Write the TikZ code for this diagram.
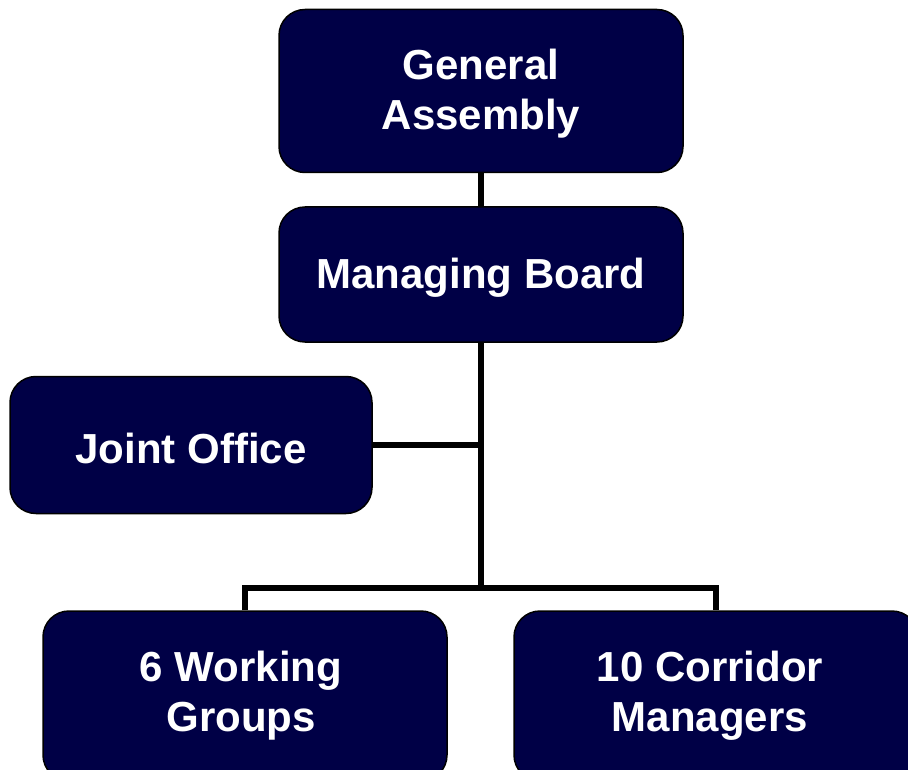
\documentclass[tikz,border=0pt]{standalone}
\usepackage{fontspec}
\setmainfont{Liberation Sans}
\definecolor{boxnavy}{RGB}{0,0,70}
\begin{document}
\begin{tikzpicture}[x=1pt,y=-1pt,
  orgbox/.style={draw=black, line width=1.5pt, fill=boxnavy, rounded corners=26pt,
    inner sep=0pt, minimum width=404pt},
  orgtext/.style={text=white, font=\fontsize{42}{50}\selectfont\bfseries, align=center,
    inner sep=0pt},
  link/.style={draw=black, line width=5.5pt}]
\useasboundingbox (0,0) rectangle (908,770);
\clip (0,0) rectangle (908,770);
\node[orgbox, minimum height=163pt] (ga) at (481,91) {};
\node[orgbox, minimum height=135pt] (mb) at (481,274.5) {};
\node[orgbox, minimum height=137pt, minimum width=362pt] (jo) at (191,445) {};
\node[orgbox, minimum height=170pt] (wg) at (245,696) {};
\node[orgbox, minimum height=170pt] (cm) at (716,696) {};
\node[orgtext] (gat) at (481,94) {General\\Assembly};
\node[orgtext] (mbt) at (481,278) {Managing Board};
\node[orgtext] (jot) at (191,448) {Joint Office};
\node[orgtext] (wgt) at (241,696) {6 Working\\Groups};
\node[orgtext] (cmt) at (710,696) {10 Corridor\\Managers};
\coordinate (j1) at (481,445);
\coordinate (j2) at (481,588);
\draw[link] (ga.south) -- (mb.north);
\draw[link] (mb.south) -- (j2);
\draw[link] (jo.east) -- (j1);
\draw[link] (wg.north) |- (j2) -| (cm.north);
\end{tikzpicture}
\end{document}
